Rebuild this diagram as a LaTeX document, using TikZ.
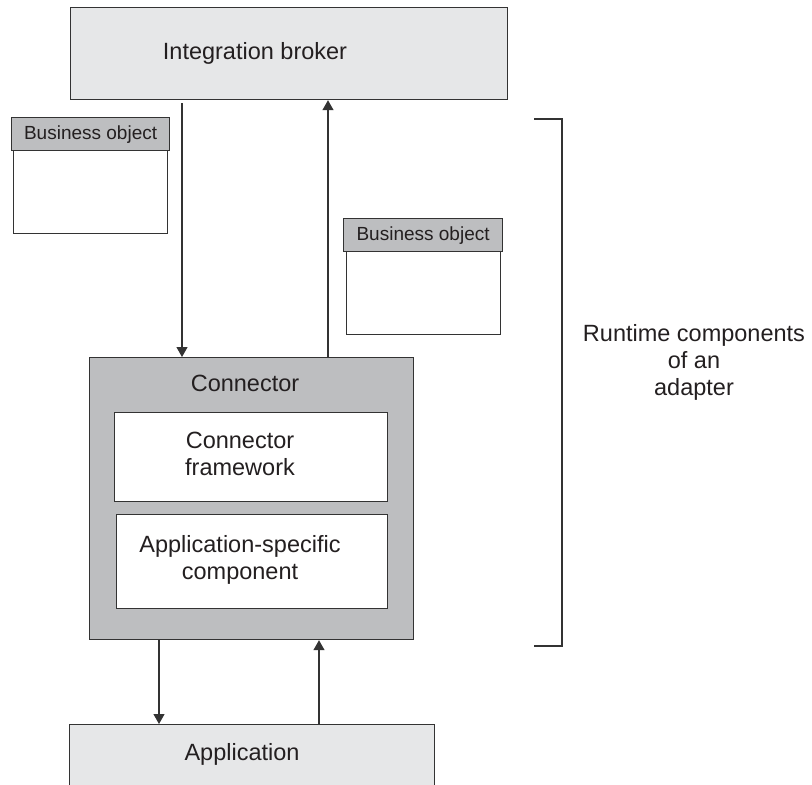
\documentclass[tikz,border=0pt]{standalone}
\usepackage{fontspec}
\setmainfont{Liberation Sans}
\usetikzlibrary{arrows.meta,calc}
\definecolor{lightfill}{HTML}{E6E7E8}
\definecolor{darkfill}{HTML}{BDBEC0}
\definecolor{edge}{HTML}{333333}
\definecolor{ink}{HTML}{231F20}
\begin{document}
\begin{tikzpicture}[x=1pt,y=-1pt,
  box/.style={draw=edge,line width=1.2pt,inner sep=0pt,anchor=north west},
  lbl/.style={text=ink,font=\fontsize{23.5}{27}\selectfont,align=center,inner sep=0pt},
  bolbl/.style={text=ink,font=\fontsize{19}{22}\selectfont,inner sep=0pt},
  arr/.style={draw=edge,line width=1.2pt,-{Triangle[width=11pt,length=10pt]}}]
\clip (0,0) rectangle (812,785);
\useasboundingbox (0,0) rectangle (812,785);
% Integration broker
\node[box,fill=lightfill,minimum width=437pt,minimum height=92pt] (broker) at (70,7) {};
\node[lbl] (brokert) at (255,53) {Integration broker};
% Business object 1
\node[box,fill=white,minimum width=154pt,minimum height=83pt] (bo1b) at (13,150) {};
\node[box,fill=darkfill,minimum width=158pt,minimum height=33pt] (bo1h) at (11,117) {};
\node[bolbl] (bo1t) at (bo1h.center) {Business object};
% Business object 2
\node[box,fill=white,minimum width=154pt,minimum height=83pt] (bo2b) at (346,251) {};
\node[box,fill=darkfill,minimum width=159pt,minimum height=33pt] (bo2h) at (343,218) {};
\node[bolbl] (bo2t) at (bo2h.center) {Business object};
% Connector
\node[box,fill=darkfill,minimum width=324pt,minimum height=282pt] (conn) at (89,357) {};
\node[lbl] (connt) at (245,383) {Connector};
\node[box,fill=white,minimum width=273pt,minimum height=89pt] (fw) at (114,412) {};
\node[lbl] (fwt) at (240,454) {Connector\\framework};
\node[box,fill=white,minimum width=271pt,minimum height=94pt] (asc) at (116,514) {};
\node[lbl] (asct) at (240,560) {Application-specific\\component};
% Application
\node[box,fill=lightfill,minimum width=365pt,minimum height=90pt] (app) at (69,724) {};
\node[lbl] (appt) at (242,754) {Application};
% arrows
\coordinate (d1) at (182,0);
\coordinate (u1) at (328,0);
\coordinate (d2) at (159,0);
\coordinate (u2) at (319,0);
\draw[arr,shorten <=3pt] (broker.south -| d1) -- (conn.north -| d1);
\draw[arr] (conn.north -| u1) -- (broker.south -| u1);
\draw[arr] (conn.south -| d2) -- (app.north -| d2);
\draw[arr] (app.north -| u2) -- (conn.south -| u2);
% bracket
\coordinate (bt) at (534,119);
\coordinate (bb) at (534,646);
\draw[draw=edge,line width=1.2pt] (bt) -- (562,119) -- (562,646) -- (bb);
\node[lbl] (rt) at (694,362) {Runtime components\\of an\\adapter};
\end{tikzpicture}
\end{document}
